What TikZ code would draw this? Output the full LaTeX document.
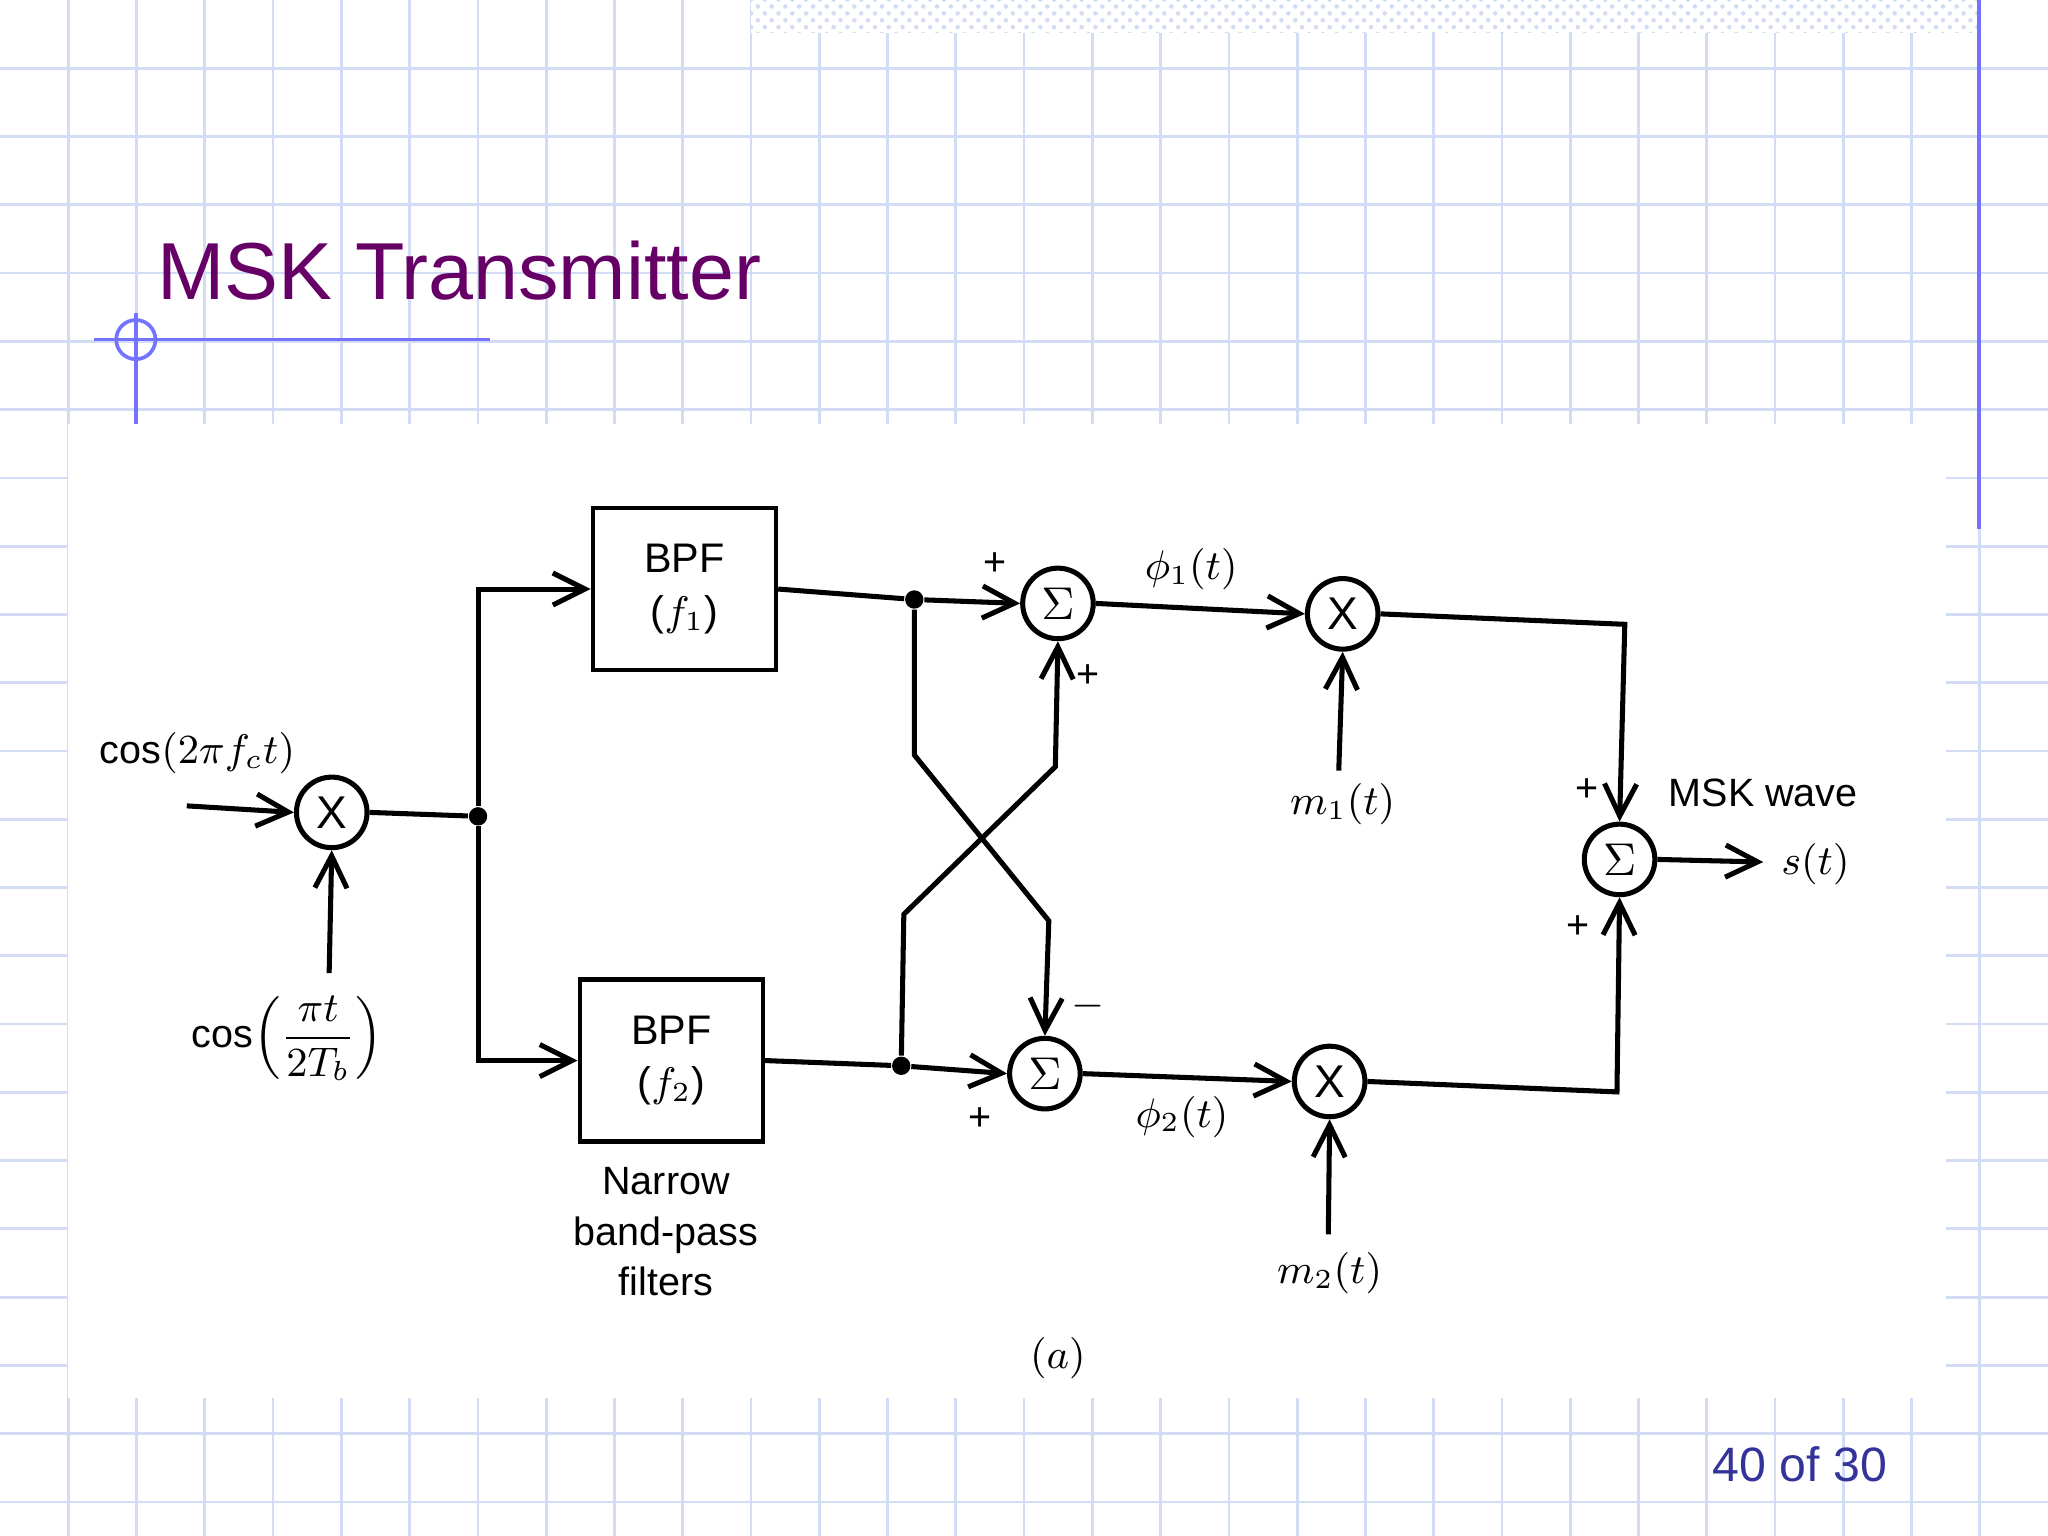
\documentclass[tikz,border=0pt]{standalone}
\usepackage{fontspec}
\setmainfont{Liberation Sans}
\usetikzlibrary{arrows.meta,patterns}
\definecolor{gridblue}{HTML}{D2DCF4}
\definecolor{titlepurple}{HTML}{660066}
\definecolor{pagenum}{HTML}{333399}
\begin{document}
\begin{tikzpicture}[x=0.01cm,y=-0.01cm,
    op/.style={draw,circle,line width=1.1pt,minimum size=0.54cm,inner sep=0pt,font=\fontsize{10}{10}\selectfont},
    bpf/.style={draw,line width=1pt,minimum width=1.4cm,minimum height=1.24cm,align=center,font=\fontsize{9}{11.5}\selectfont},
    wire/.style={line width=1.1pt},
    arr/.style={wire,-{Straight Barb[length=7pt,width=7pt]}},
    dot/.style={circle,fill,inner sep=0pt,minimum size=4pt},
    lab/.style={font=\fontsize{8.6}{11}\selectfont}]
\useasboundingbox (0,0) rectangle (1568,1176);
\fill[white] (0,0) rectangle (1568,1176);
% background grid
\foreach \i in {1,...,29} \draw[gridblue,line width=0.6pt] (\i*52.27,0) -- (\i*52.27,1176);
\foreach \j in {1,...,22} \draw[gridblue,line width=0.6pt] (0,\j*52.27) -- (1568,\j*52.27);
\fill[white] (575,0) rectangle (1515,25);
\fill[pattern=crosshatch dots,pattern color=gridblue] (575,0) rectangle (1515,25);
\draw[blue!55,line width=0.8pt] (1515,0) -- (1515,405);
% title decoration
\draw[blue!55,line width=0.8pt] (72,260) -- (375,260);
\draw[blue!55,line width=0.8pt] (104,240) -- (104,325);
\draw[blue!55,line width=0.8pt] (104,260) circle[radius=0.15cm];
\node[anchor=base west,text=titlepurple,font=\fontsize{17.6}{21}\selectfont,inner sep=0pt] (title) at (120,229) {MSK Transmitter};
% diagram panel
\fill[white] (52,325) rectangle (1490,1070);
% blocks
\node[op] (m0) at (254,622) {X};
\node[bpf] (b1) at (524,451) {BPF\\($f_1$)};
\node[bpf] (b2) at (514,812) {BPF\\($f_2$)};
\node[op] (s1) at (810,462) {$\Sigma$};
\node[op] (s2) at (800,822) {$\Sigma$};
\node[op] (m1) at (1028,470) {X};
\node[op] (m2) at (1018,828) {X};
\node[op] (s3) at (1240,658) {$\Sigma$};
% coordinates
\coordinate (in) at (143,617);
\coordinate (cin) at (252,745);
\coordinate (j0) at (366,625);
\coordinate (j1) at (700,459);
\coordinate (j2) at (690,816);
\coordinate (m1in) at (1025,590);
\coordinate (m2in) at (1017,945);
\coordinate (out) at (1350,660);
\node[dot] (d0) at (j0) {};
\node[dot] (d1) at (j1) {};
\node[dot] (d2) at (j2) {};
% connectors
\draw[arr] (in) -- (m0.west);
\draw[arr] (cin) -- (m0.south);
\draw[wire] (m0.east) -- (d0);
\draw[arr] (d0) |- (b1.west);
\draw[arr] (d0) |- (b2.west);
\draw[wire] (b1.east) -- (d1);
\draw[arr] (d1) -- (s1.west);
\draw[wire] (b2.east) -- (d2);
\draw[arr] (d2) -- (s2.west);
\draw[arr] (d1) -- (700,578) -- (803,705) -- (s2.north);
\draw[arr] (d2) -- (692,700) -- (808,587) -- (s1.south);
\draw[arr] (s1.east) -- (m1.west);
\draw[arr] (s2.east) -- (m2.west);
\draw[arr] (m1in) -- (m1.south);
\draw[arr] (m2in) -- (m2.south);
\draw[arr] (m1.east) -- (1244,478) -- (s3.north);
\draw[arr] (m2.east) -- (1238,836) -- (s3.south);
\draw[arr] (s3.east) -- (out);
% labels
\node[lab,anchor=west] (lcos) at (64,577) {cos$(2\pi f_c t)$};
\node[lab] (lcos2) at (220,795) {cos$\left(\displaystyle\frac{\pi t}{2T_b}\right)$};
\node[lab] (p1) at (762,432) {+};
\node[lab] (p2) at (833,518) {+};
\node[lab] (p3) at (833,770) {$-$};
\node[lab] (p4) at (750,857) {+};
\node[lab] (p5) at (1215,605) {+};
\node[lab] (p6) at (1208,710) {+};
\node[lab] (phi1) at (912,436) {$\phi_1(t)$};
\node[lab] (phi2) at (905,855) {$\phi_2(t)$};
\node[lab] (lm1) at (1028,616) {$m_1(t)$};
\node[lab] (lm2) at (1018,975) {$m_2(t)$};
\node[lab] (msk) at (1350,607) {MSK wave};
\node[lab] (st) at (1390,662) {$s(t)$};
\node[lab,align=center] (nbp) at (510,943) {Narrow\\band-pass\\filters};
\node[lab] (la) at (810,1040) {$(a)$};
\node[text=pagenum,font=\fontsize{10.5}{12}\selectfont] (pg) at (1378,1121) {40 of 30};
\end{tikzpicture}
\end{document}
